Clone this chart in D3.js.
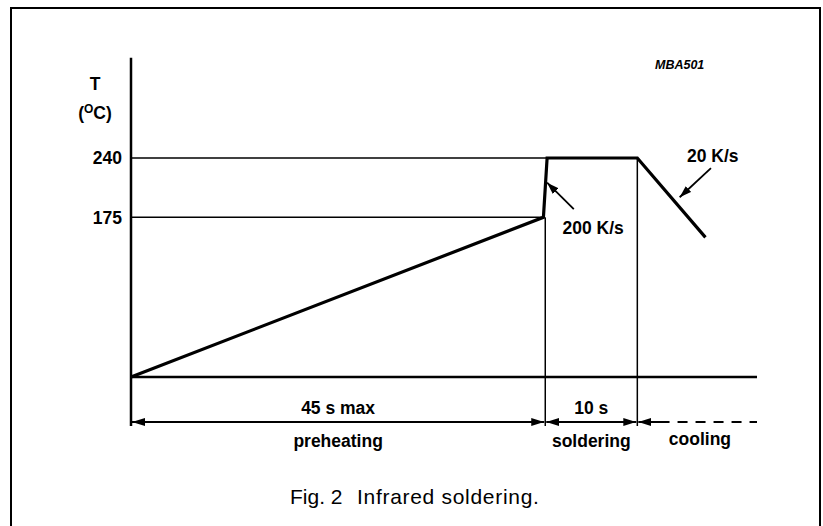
<!DOCTYPE html>
<html>
<head>
<meta charset="utf-8">
<script src="https://cdn.jsdelivr.net/npm/d3@7"></script>
<style>
  body { margin: 0; background: #fff; }
  text { font-family: "Liberation Sans", Arial, Helvetica, sans-serif; fill: #000; }
</style>
</head>
<body>
<svg id="chart"></svg>
<script>
const width = 823;
const height = 526;

// reflow profile (time in s, temperature in degC)
const profileTime = [0, 44.8, 45.2, 55, 62.4];
const profileTemp = [0, 175, 240, 240, 153];

const tempTicks = [175, 240];
const phaseBounds = [0, 45, 55, 68];
const phaseDurations = ["45 s max", "10 s", ""];
const phaseNames = ["preheating", "soldering", "cooling"];

const rateLabels = ["200 K/s", "20 K/s"];
// annotation anchor points in data space: [tailT, tailTemp, headT, headTemp, textT, textTemp]
const rateArrows = [
    [48.1, 184, 45.2, 213, 50.2, 164],
    [63.0, 229, 59.6, 197, 63.2, 243]
];

const svg = d3.select("#chart")
    .attr("width", width)
    .attr("height", height);

const x = d3.scaleLinear().domain([0, 68]).range([131, 757]);
const y = d3.scaleLinear().domain([0, 240]).range([377, 158]);

const dimY = 422;
const labelSize = "17.5px";

// outer frame
svg.append("rect")
    .attr("x", 11).attr("y", 8)
    .attr("width", 809).attr("height", 560)
    .attr("fill", "none")
    .attr("stroke", "#000")
    .attr("stroke-width", 2);

const defs = svg.append("defs");
defs.append("marker")
    .attr("id", "head")
    .attr("viewBox", "0 0 12 8")
    .attr("refX", 12).attr("refY", 4)
    .attr("markerWidth", 12).attr("markerHeight", 8)
    .attr("markerUnits", "userSpaceOnUse")
    .attr("orient", "auto-start-reverse")
    .append("path")
    .attr("d", "M0,0 L12,4 L0,8 Z")
    .attr("fill", "#000");
defs.append("marker")
    .attr("id", "head2")
    .attr("viewBox", "0 0 13 8")
    .attr("refX", 13).attr("refY", 4)
    .attr("markerWidth", 13).attr("markerHeight", 8)
    .attr("markerUnits", "userSpaceOnUse")
    .attr("orient", "auto-start-reverse")
    .append("path")
    .attr("d", "M0,0 L13,4 L0,8 Z")
    .attr("fill", "#000");

// y axis line
svg.append("line")
    .attr("x1", x(0)).attr("x2", x(0))
    .attr("y1", y(350)).attr("y2", dimY + 4)
    .attr("stroke", "#000").attr("stroke-width", 2.5);

// baseline
svg.append("line")
    .attr("x1", x(0)).attr("x2", x(68))
    .attr("y1", y(0)).attr("y2", y(0))
    .attr("stroke", "#000").attr("stroke-width", 2.5);

// reference temperature lines
svg.selectAll(".ref")
    .data(tempTicks)
    .enter()
    .append("line")
    .attr("class", "ref")
    .attr("x1", x(0))
    .attr("x2", d => d === 240 ? x(45.1) : x(44.8))
    .attr("y1", d => y(d)).attr("y2", d => y(d))
    .attr("stroke", "#000").attr("stroke-width", 1.5);

svg.selectAll(".tick-label")
    .data(tempTicks)
    .enter()
    .append("text")
    .attr("class", "tick-label")
    .attr("x", 122)
    .attr("y", d => y(d))
    .attr("dy", "0.36em")
    .attr("text-anchor", "end")
    .style("font-size", labelSize)
    .style("font-weight", "bold")
    .text(d => d);

// axis title
svg.append("text")
    .attr("x", 95).attr("y", 90)
    .attr("text-anchor", "middle")
    .style("font-size", labelSize).style("font-weight", "bold")
    .text("T");
const unit = svg.append("text")
    .attr("x", 95).attr("y", 119)
    .attr("text-anchor", "middle")
    .style("font-size", labelSize).style("font-weight", "bold");
unit.append("tspan").text("(");
unit.append("tspan").attr("dy", -6).style("font-size", "12px").text("O");
unit.append("tspan").attr("dy", 6).text("C)");

// phase boundary verticals
svg.selectAll(".phase-line")
    .data(phaseBounds.slice(1, 3))
    .enter()
    .append("line")
    .attr("class", "phase-line")
    .attr("x1", d => x(d)).attr("x2", d => x(d))
    .attr("y1", d => d === 45 ? y(175) : y(240))
    .attr("y2", dimY + 4)
    .attr("stroke", "#000").attr("stroke-width", 1.5);

// profile curve
const line = d3.line()
    .x(d => x(d[0]))
    .y(d => y(d[1]));
svg.append("path")
    .datum(d3.zip(profileTime, profileTemp))
    .attr("d", line)
    .attr("fill", "none")
    .attr("stroke", "#000")
    .attr("stroke-width", 3.2)
    .attr("stroke-linejoin", "miter");

// dimension arrows
for (let i = 0; i < 2; i++) {
    svg.append("line")
        .attr("x1", x(phaseBounds[i]) + 1).attr("x2", x(phaseBounds[i + 1]) - 1)
        .attr("y1", dimY).attr("y2", dimY)
        .attr("stroke", "#000").attr("stroke-width", 2)
        .attr("marker-start", "url(#head2)")
        .attr("marker-end", "url(#head2)");
}
svg.append("line")
    .attr("x1", x(55) + 1).attr("x2", x(58.5))
    .attr("y1", dimY).attr("y2", dimY)
    .attr("stroke", "#000").attr("stroke-width", 2)
    .attr("marker-start", "url(#head2)");
svg.append("line")
    .attr("x1", x(58.5)).attr("x2", x(68))
    .attr("y1", dimY).attr("y2", dimY)
    .attr("stroke", "#000").attr("stroke-width", 2)
    .attr("stroke-dasharray", "10,8")
    .attr("stroke-dashoffset", -8);

const mids = phaseBounds.slice(0, 3).map((d, i) => (d + phaseBounds[i + 1]) / 2);
svg.selectAll(".dur")
    .data(phaseDurations)
    .enter()
    .append("text")
    .attr("x", (d, i) => x(mids[i]))
    .attr("y", 414)
    .attr("text-anchor", "middle")
    .style("font-size", labelSize).style("font-weight", "bold")
    .text(d => d);
svg.selectAll(".phase")
    .data(phaseNames)
    .enter()
    .append("text")
    .attr("x", (d, i) => i === 2 ? x(61.8) : x(mids[i]))
    .attr("y", (d, i) => i === 2 ? 445 : 447)
    .attr("text-anchor", "middle")
    .style("font-size", labelSize).style("font-weight", "bold")
    .text(d => d);

// rate annotations
rateArrows.forEach((a, i) => {
    svg.append("line")
        .attr("x1", x(a[0])).attr("y1", y(a[1]))
        .attr("x2", x(a[2])).attr("y2", y(a[3]))
        .attr("stroke", "#000").attr("stroke-width", 1.8)
        .attr("marker-end", "url(#head)");
    svg.append("text")
        .attr("x", x(a[4])).attr("y", y(a[5]))
        .attr("dy", "0.36em")
        .attr("text-anchor", "middle")
        .style("font-size", labelSize).style("font-weight", "bold")
        .text(rateLabels[i]);
});

// figure code
svg.append("text")
    .attr("x", 655).attr("y", 69)
    .style("font-size", "12.5px")
    .style("font-weight", "bold")
    .style("font-style", "italic")
    .text("MBA501");

// caption
svg.append("text")
    .attr("x", 290).attr("y", 504)
    .style("font-size", "21px")
    .text("Fig. 2");
svg.append("text")
    .attr("x", 357).attr("y", 504)
    .style("font-size", "21px")
    .style("letter-spacing", "0.7px")
    .text("Infrared soldering.");
</script>
</body>
</html>
